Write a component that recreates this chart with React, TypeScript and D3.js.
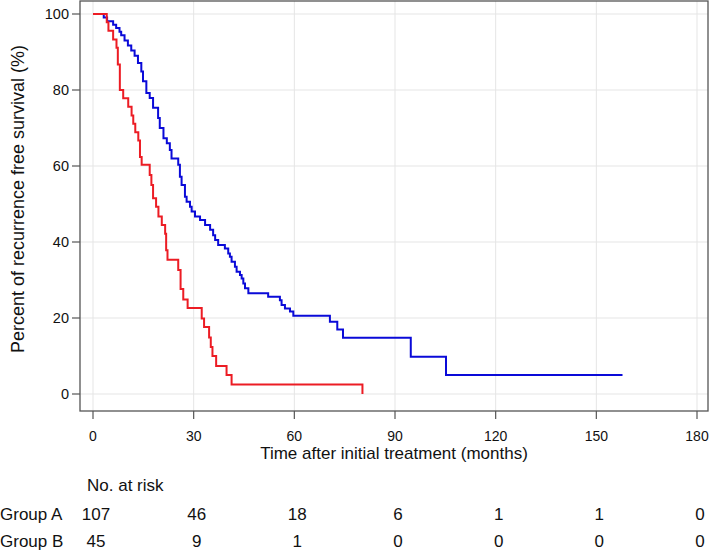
import React from "react";
import * as d3 from "d3";

// Kaplan–Meier step data: [time (months), survival (%) after event]
const groupA: [number, number][] = [
  [3.2, 99.1], [4.2, 98.1], [6.0, 97.2], [6.9, 96.3], [7.9, 95.3], [8.4, 94.4],
  [9.4, 93.0], [10.4, 91.7], [11.4, 90.4], [12.4, 89.0], [13.4, 87.1], [14.4, 84.9],
  [14.9, 82.3], [15.9, 79.2], [16.9, 77.9], [17.9, 75.3], [19.4, 72.6], [19.9, 70.0],
  [21.0, 67.3], [22.0, 66.0], [22.9, 64.2], [23.4, 62.0], [25.4, 60.3], [25.9, 57.2],
  [26.4, 55.0], [27.4, 51.9], [27.9, 50.6], [28.9, 49.3], [29.4, 48.0], [30.4, 46.7],
  [31.9, 45.8], [33.4, 44.5], [34.9, 43.2], [35.8, 41.8], [36.4, 40.5], [37.3, 39.2],
  [39.3, 38.3], [40.3, 37.0], [40.8, 36.1], [41.3, 34.8], [42.3, 33.5], [42.8, 32.2],
  [43.8, 31.3], [44.3, 30.4], [44.8, 29.1], [45.3, 27.8], [46.3, 26.5], [52.2, 25.6],
  [55.7, 24.7], [56.2, 23.4], [57.2, 22.5], [58.7, 21.7], [59.7, 20.6], [70.6, 19.0],
  [72.8, 17.0], [74.5, 14.8], [94.7, 9.8], [105.2, 5.0], [157.8, 5.0],
];

const groupB: [number, number][] = [
  [4.1, 97.8], [4.6, 95.6], [6.0, 93.3], [7.0, 91.1], [7.4, 86.7], [8.0, 80.0],
  [9.0, 77.8], [10.5, 75.6], [11.5, 73.3], [12.0, 71.1], [12.6, 68.9], [13.5, 66.7],
  [14.0, 62.4], [14.5, 60.3], [16.9, 57.6], [17.4, 55.0], [17.9, 51.5], [18.8, 49.3],
  [19.5, 46.7], [20.5, 44.5], [21.5, 42.2], [21.8, 37.8], [22.2, 35.3], [25.4, 32.6],
  [26.1, 27.6], [26.9, 24.9], [28.2, 22.6], [32.4, 19.9], [33.1, 17.6], [34.6, 14.9],
  [35.1, 12.4], [35.6, 10.0], [36.7, 7.4], [39.8, 5.0], [41.3, 2.5], [80.3, 0],
];

const xTicks = [0, 30, 60, 90, 120, 150, 180];
const yTicks = [0, 20, 40, 60, 80, 100];
const riskA = [107, 46, 18, 6, 1, 1, 0];
const riskB = [45, 9, 1, 0, 0, 0, 0];
const groupNames = ["Group A", "Group B"];

const FONT = "'Liberation Sans', Arial, Helvetica, sans-serif";

export default function App() {
  const W = 710, H = 550;
  const box = { left: 80, top: 1, right: 708, bottom: 411 };
  const x = d3.scaleLinear().domain([0, 180]).range([93, 697]);
  const y = d3.scaleLinear().domain([0, 100]).range([394, 14]);

  const line = d3
    .line<[number, number]>()
    .x((d) => x(d[0]))
    .y((d) => y(d[1]))
    .curve(d3.curveStepAfter);

  const pathA = line([[0, 100], ...groupA]) || "";
  const pathB = line([[0, 100], ...groupB]) || "";

  const rows = [riskA, riskB];

  return (
    <svg width={W} height={H} style={{ position: "absolute", left: 0, top: 0, fontFamily: FONT }}>
      <rect x={0} y={0} width={W} height={H} fill="#fff" />
      {/* grid */}
      {xTicks.map((t) => (
        <line key={"gx" + t} x1={x(t)} x2={x(t)} y1={box.top} y2={box.bottom} stroke="#e5e5e5" strokeWidth={1} />
      ))}
      {yTicks.map((t) => (
        <line key={"gy" + t} x1={box.left} x2={box.right} y1={y(t)} y2={y(t)} stroke="#e5e5e5" strokeWidth={1} />
      ))}
      {/* curves */}
      <path d={pathA} fill="none" stroke="#0a0ad8" strokeWidth={2} />
      <path d={pathB} fill="none" stroke="#ec1c24" strokeWidth={2} />
      {/* frame */}
      <rect x={box.left} y={box.top} width={box.right - box.left} height={box.bottom - box.top} fill="none" stroke="#555" strokeWidth={1.3} />
      {/* y axis ticks */}
      {yTicks.map((t) => (
        <g key={"yt" + t}>
          <line x1={72} x2={box.left} y1={y(t)} y2={y(t)} stroke="#555" strokeWidth={1.2} />
          <text x={69} y={y(t)} dy="0.35em" textAnchor="end" fontSize={14.5} fill="#111">{t}</text>
        </g>
      ))}
      {/* x axis ticks */}
      {xTicks.map((t) => (
        <g key={"xt" + t}>
          <line x1={x(t)} x2={x(t)} y1={box.bottom} y2={box.bottom + 8} stroke="#555" strokeWidth={1.2} />
          <text x={x(t)} y={441} textAnchor="middle" fontSize={14} fill="#111">{t}</text>
        </g>
      ))}
      {/* titles */}
      <text x={394} y={459} textAnchor="middle" fontSize={17} fill="#111">Time after initial treatment (months)</text>
      <text transform={`translate(24,${199}) rotate(-90)`} textAnchor="middle" fontSize={18} fill="#111">
        Percent of recurrence free survival (%)
      </text>
      {/* risk table */}
      <text x={87} y={491} fontSize={17} fill="#111">No. at risk</text>
      {rows.map((r, i) => (
        <g key={"row" + i}>
          <text x={0} y={520 + i * 27} fontSize={17} fill="#111">{groupNames[i]}</text>
          {r.map((v, j) => (
            <text key={j} x={x(xTicks[j]) + 3} y={520 + i * 27} textAnchor="middle" fontSize={17} fill="#111">{v}</text>
          ))}
        </g>
      ))}
    </svg>
  );
}
